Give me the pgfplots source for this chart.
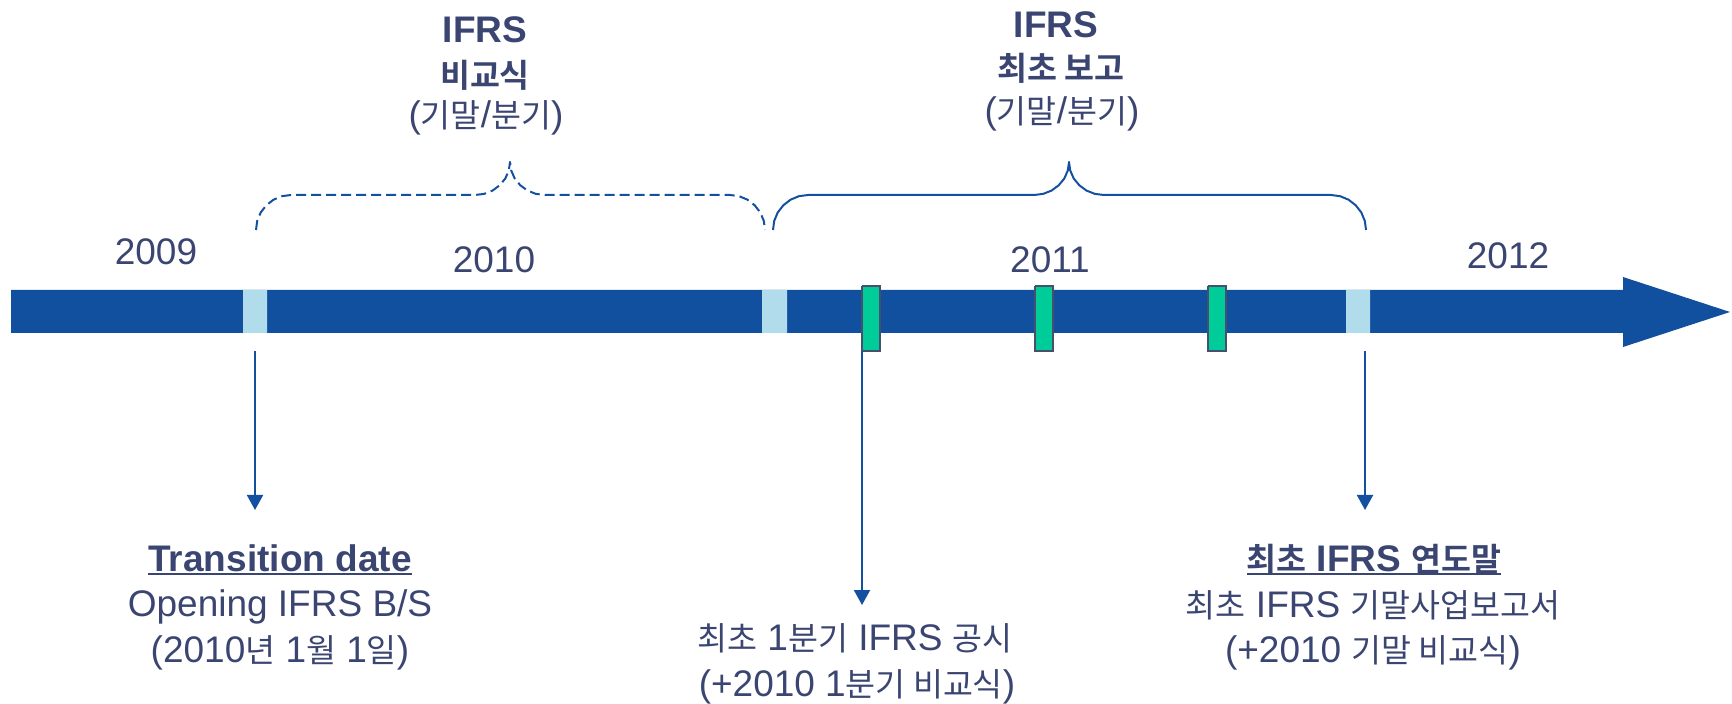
\documentclass[border=0pt]{standalone}
\usepackage{fontspec}
\setmainfont{Liberation Sans}
\newfontfamily\kr[Scale=0.88,BoldFont={Noto Sans CJK KR Bold}]{Noto Sans CJK KR}
\usepackage{pgfplots}
\pgfplotsset{compat=1.18}
\usetikzlibrary{arrows.meta}
\definecolor{barcol}{RGB}{17,80,158}
\definecolor{lightb}{RGB}{176,220,236}
\definecolor{greenm}{RGB}{0,204,153}
\definecolor{greyo}{RGB}{70,80,110}
\definecolor{linecol}{RGB}{20,80,160}
\definecolor{textcol}{RGB}{59,69,113}
\newcommand\ul[1]{\setbox0=\hbox{#1}\rlap{\rule[-2.2pt]{\wd0}{1pt}}\box0}
\tikzset{lbl/.style={text=textcol, font=\fontsize{18.5pt}{22pt}\selectfont, inner sep=0pt, anchor=base}}
\begin{document}
\begin{tikzpicture}
\begin{axis}[scale only axis, width=866pt, height=352pt,
  xmin=0, xmax=1732, ymin=0, ymax=704, y dir=reverse,
  hide axis, clip=false]
% timeline arrow
\addplot[fill=barcol, draw=none] coordinates {(11,290) (1623,290) (1623,277) (1730,312) (1623,347) (1623,333) (11,333) (11,290)};
% light blue markers
\addplot[fill=lightb, draw=none] coordinates {(243,290) (267,290) (267,333) (243,333) (243,290)};
\addplot[fill=lightb, draw=none] coordinates {(762,290) (787,290) (787,333) (762,333) (762,290)};
\addplot[fill=lightb, draw=none] coordinates {(1346,290) (1370,290) (1370,333) (1346,333) (1346,290)};
% green markers
\addplot[fill=greenm, draw=greyo, line width=1pt] coordinates {(862,286) (880,286) (880,351) (862,351) (862,286)};
\addplot[fill=greenm, draw=greyo, line width=1pt] coordinates {(1035,286) (1053,286) (1053,351) (1035,351) (1035,286)};
\addplot[fill=greenm, draw=greyo, line width=1pt] coordinates {(1208,286) (1226,286) (1226,351) (1208,351) (1208,286)};
% dashed brace
\addplot[linecol, line width=1pt, dash pattern=on 5pt off 2.5pt, line join=round] coordinates {
(256,230) (257.2,220.9) (260.7,212.5) (266.3,205.3) (273.5,199.7) (281.9,196.2) (291,195)
(475,195) (484.1,193.9) (492.5,190.6) (499.7,185.3) (505.3,178.5) (508.8,170.5) (510,162)
(511.2,170.5) (514.7,178.5) (520.3,185.3) (527.5,190.6) (535.9,193.9) (545,195)
(730,195) (739.1,196.2) (747.5,199.7) (754.7,205.3) (760.3,212.5) (763.8,220.9) (765,230)};
% solid brace
\addplot[linecol, line width=1pt, line join=round] coordinates {
(773,230) (774.2,220.9) (777.7,212.5) (783.3,205.3) (790.5,199.7) (798.9,196.2) (808,195)
(1034,195) (1043.1,193.9) (1051.5,190.6) (1058.7,185.3) (1064.3,178.5) (1067.8,170.5) (1069,162)
(1070.2,170.5) (1073.7,178.5) (1079.3,185.3) (1086.5,190.6) (1094.9,193.9) (1104,195)
(1331,195) (1340.1,196.2) (1348.5,199.7) (1355.7,205.3) (1361.3,212.5) (1364.8,220.9) (1366,230)};
% arrows down
\addplot[linecol, line width=1pt, -{Triangle[length=7.5pt,width=8pt]}] coordinates {(255,351) (255,510)};
\addplot[linecol, line width=1pt, -{Triangle[length=7.5pt,width=8pt]}] coordinates {(862,351) (862,605)};
\addplot[linecol, line width=1pt, -{Triangle[length=7.5pt,width=8pt]}] coordinates {(1365,351) (1365,510)};
% year labels
\node[lbl] at (axis cs:156,265) {2009};
\node[lbl] at (axis cs:494,273) {2010};
\node[lbl] at (axis cs:1050,273) {2011};
\node[lbl] at (axis cs:1508,269) {2012};
% top left
\node[lbl] at (axis cs:485,43) {\bfseries IFRS};
\node[lbl] at (axis cs:485,88) {\kr\bfseries 비교식};
\node[lbl] at (axis cs:486,128) {({\kr 기말}/{\kr 분기})};
% top right
\node[lbl] at (axis cs:1056,38) {\bfseries IFRS};
\node[lbl] at (axis cs:1061,81) {\kr\bfseries 최초 보고};
\node[lbl] at (axis cs:1062,124) {({\kr 기말}/{\kr 분기})};
% bottom left
\node[lbl] at (axis cs:280,571) {\ul{\bfseries Transition date}};
\node[lbl] at (axis cs:280,616) {Opening IFRS B/S};
\node[lbl] at (axis cs:280,662) {(2010{\kr 년} 1{\kr 월} 1{\kr 일})};
% bottom middle
\node[lbl] at (axis cs:855,650) {{\kr 최초} 1{\kr 분기} IFRS {\kr 공시}};
\node[lbl] at (axis cs:857,696) {(+2010 1{\kr 분기 비교식})};
% bottom right
\node[lbl] at (axis cs:1374,571) {\ul{\bfseries{\kr 최초} IFRS {\kr 연도말}}};
\node[lbl] at (axis cs:1373,617) {{\kr 최초} IFRS {\kr 기말사업보고서}};
\node[lbl] at (axis cs:1373,662) {(+2010 {\kr 기말 비교식})};
\end{axis}
\pgfresetboundingbox
\path (current axis.south west) rectangle (current axis.north east);
\end{tikzpicture}
\end{document}
